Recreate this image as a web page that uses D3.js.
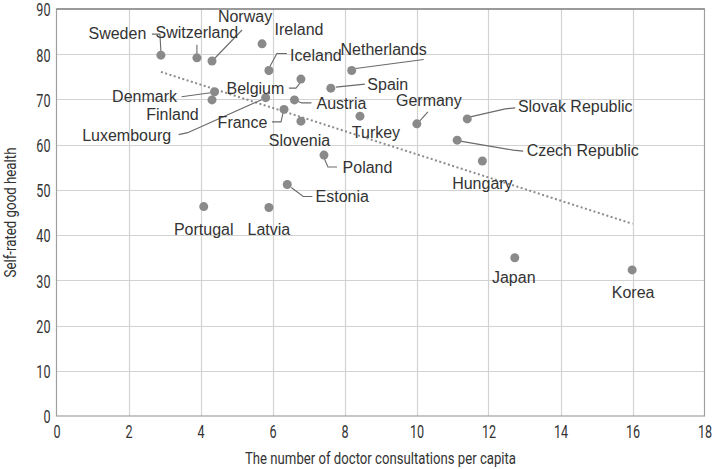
<!DOCTYPE html>
<html>
<head>
<meta charset="utf-8">
<script src="https://cdn.jsdelivr.net/npm/d3@7"></script>
<style>
  html, body { margin: 0; padding: 0; background: #fff; }
  svg { display: block; }
  .lbl { font-family: "Liberation Sans", Arial, sans-serif; font-size: 16px; fill: #333; }
  .tick-lbl { font-family: Roboto, "Liberation Sans", sans-serif; font-size: 18px; fill: #333; }
  .ax-title { font-family: Roboto, "Liberation Sans", sans-serif; font-size: 16.5px; fill: #333; }
</style>
</head>
<body>
<svg id="chart" width="712" height="469"></svg>
<script>
// ---- data ----
const countries = ["Sweden","Switzerland","Norway","Ireland","Iceland","Netherlands","Belgium","Spain",
  "Denmark","Finland","Luxembourg","Austria","France","Slovenia","Turkey","Germany",
  "Slovak Republic","Czech Republic","Hungary","Poland","Estonia","Portugal","Latvia","Japan","Korea"];
const consultations = [2.90,3.90,4.32,5.71,5.90,8.20,6.79,7.62,
  4.39,4.32,5.81,6.61,6.32,6.79,8.43,10.01,
  11.41,11.13,11.83,7.43,6.41,4.09,5.90,12.73,15.99];
const selfRated = [79.8,79.2,78.5,82.3,76.4,76.4,74.5,72.5,
  71.7,69.9,70.4,69.9,67.8,65.2,66.3,64.6,
  65.7,61.0,56.4,57.7,51.2,46.3,46.1,35.0,32.3];
const trendX = [2.9, 16];
const trendY = [76.1, 42.5];
const xTicks = [0,2,4,6,8,10,12,14,16,18];
const yTicks = [0,10,20,30,40,50,60,70,80,90];
const xTitle = "The number of doctor consultations per capita";
const yTitle = "Self-rated good health";

// ---- label layout (pixel offsets from each dot) ----
const labelLayout = {
  "Sweden":        {dx:-43.5, dy:-22, leader:[[-9,-21],[-1,-21],[0,-4]]},
  "Switzerland":   {dx:0, dy:-25, leader:[[0,-13],[0,-4]]},
  "Norway":        {dx:33, dy:-45, leader:[[30,-31],[3,-3]]},
  "Ireland":       {dx:37, dy:-14},
  "Iceland":       {dx:47, dy:-15, leader:[[18,-17],[8,-17],[1,-4]]},
  "Netherlands":   {dx:32, dy:-21, leader:[[4,-2],[72,-11]]},
  "Belgium":       {dx:-45.5, dy:9, leader:[[-12,9],[-5,9],[-1,4]]},
  "Spain":         {dx:57, dy:-4, leader:[[5,-1],[34,-4]]},
  "Denmark":       {dx:-70, dy:5, leader:[[-33,5],[-4,1]]},
  "Finland":       {dx:-39.5, dy:15},
  "Luxembourg":    {dx:-139, dy:38, leader:[[-87,37],[-78,35],[-4,2]]},
  "Austria":       {dx:47, dy:4, leader:[[3,1],[7,3],[17,3]]},
  "France":        {dx:-41.5, dy:13, leader:[[-12,12.5],[-3,12.5],[-1,3.5]]},
  "Slovenia":      {dx:-1.5, dy:19},
  "Turkey":        {dx:16, dy:16},
  "Germany":       {dx:12, dy:-23, leader:[[11,-12],[3,-3]]},
  "Slovak Republic":{dx:108, dy:-12, leader:[[3,-2],[38,-10],[48,-11]]},
  "Czech Republic":{dx:125.5, dy:10, leader:[[3,1],[56,10],[66,11]]},
  "Hungary":       {dx:0, dy:22},
  "Poland":        {dx:43.5, dy:12, leader:[[0,3],[4,12],[13,12]]},
  "Estonia":       {dx:55, dy:12, leader:[[4,3],[16,12],[25,12]]},
  "Portugal":      {dx:0, dy:22.5},
  "Latvia":        {dx:0, dy:22},
  "Japan":         {dx:-1, dy:20},
  "Korea":         {dx:1, dy:22}
};
const condense = 0.7;

const svg = d3.select("#chart");
const x = d3.scaleLinear().domain([0,18]).range([56.5, 704.5]);
const y = d3.scaleLinear().domain([0,90]).range([416, 9]);

// gridlines
const grid = svg.append("g");
grid.selectAll("line.v").data(xTicks.slice(1,-1)).join("line")
  .attr("x1", d => Math.round(x(d))+0.5).attr("x2", d => Math.round(x(d))+0.5)
  .attr("y1", y(90)).attr("y2", y(0))
  .attr("stroke", "#d2d2d2").attr("stroke-width", 1.2);
grid.selectAll("line.h").data(yTicks.slice(1,-1)).join("line")
  .attr("y1", d => Math.round(y(d))+0.5).attr("y2", d => Math.round(y(d))+0.5)
  .attr("x1", x(0)).attr("x2", x(18))
  .attr("stroke", "#d2d2d2").attr("stroke-width", 1.2);

// frame
svg.append("rect").attr("x", x(0)).attr("y", y(90))
  .attr("width", x(18)-x(0)).attr("height", y(0)-y(90))
  .attr("fill", "none").attr("stroke", "#a0a0a0").attr("stroke-width", 1.2);
svg.append("line").attr("x1", x(0)).attr("x2", x(18)).attr("y1", y(90)).attr("y2", y(90))
  .attr("stroke", "#707070").attr("stroke-width", 1.2);

// axes (labels only, condensed)
const xAxis = svg.append("g").attr("transform", `translate(0,${y(0)})`)
  .call(d3.axisBottom(x).tickValues(xTicks).tickSize(0));
const yAxis = svg.append("g").attr("transform", `translate(${x(0)},0)`)
  .call(d3.axisLeft(y).tickValues(yTicks).tickSize(0));
[xAxis, yAxis].forEach(a => {
  a.select(".domain").remove();
  a.attr("font-size", null).attr("font-family", null);
  a.selectAll("text").attr("class", "tick-lbl").attr("fill", null);
});
xAxis.selectAll("text").attr("x", 0).attr("y", 0).attr("dy", "0.35em")
  .attr("text-anchor", "middle")
  .attr("transform", `translate(0,15.5) scale(${condense},1)`);
yAxis.selectAll("text").attr("x", 0).attr("y", 0).attr("dy", "0.35em")
  .attr("text-anchor", "end")
  .attr("transform", `translate(-6,0.5) scale(${condense},1)`);

// axis titles
svg.append("text").attr("class", "ax-title")
  .attr("x", (x(0)+x(18))/2).attr("y", 458).attr("dy", "0.35em")
  .attr("text-anchor", "middle")
  .attr("textLength", 271).attr("lengthAdjust", "spacingAndGlyphs")
  .text(xTitle);
svg.append("text").attr("class", "ax-title")
  .attr("transform", `translate(10,${(y(0)+y(90))/2}) rotate(-90)`)
  .attr("dy", "0.35em").attr("text-anchor", "middle")
  .attr("textLength", 130).attr("lengthAdjust", "spacingAndGlyphs")
  .text(yTitle);

// trend line
svg.append("line")
  .attr("x1", x(trendX[0])).attr("y1", y(trendY[0]))
  .attr("x2", x(trendX[1])).attr("y2", y(trendY[1]))
  .attr("stroke", "#8c8c8c").attr("stroke-width", 2).attr("stroke-dasharray", "2,2.5");

const pts = countries.map((c,i) => ({name:c, cx:x(consultations[i]), cy:y(selfRated[i])}));

// leader lines
const lineGen = d3.line();
svg.append("g").selectAll("path").data(pts.filter(p => labelLayout[p.name].leader)).join("path")
  .attr("d", p => lineGen(labelLayout[p.name].leader.map(o => [p.cx+o[0], p.cy+o[1]])))
  .attr("fill", "none").attr("stroke", "#6a6a6a").attr("stroke-width", 1.1);

// dots
svg.append("g").selectAll("circle").data(pts).join("circle")
  .attr("cx", p => p.cx).attr("cy", p => p.cy).attr("r", 4.5)
  .attr("fill", "#8a8a8a");

// labels
svg.append("g").selectAll("text").data(pts).join("text")
  .attr("class", "lbl")
  .attr("x", p => p.cx + labelLayout[p.name].dx)
  .attr("y", p => p.cy + labelLayout[p.name].dy)
  .attr("dy", "0.35em").attr("text-anchor", "middle")
  .text(p => p.name);
</script>
</body>
</html>
